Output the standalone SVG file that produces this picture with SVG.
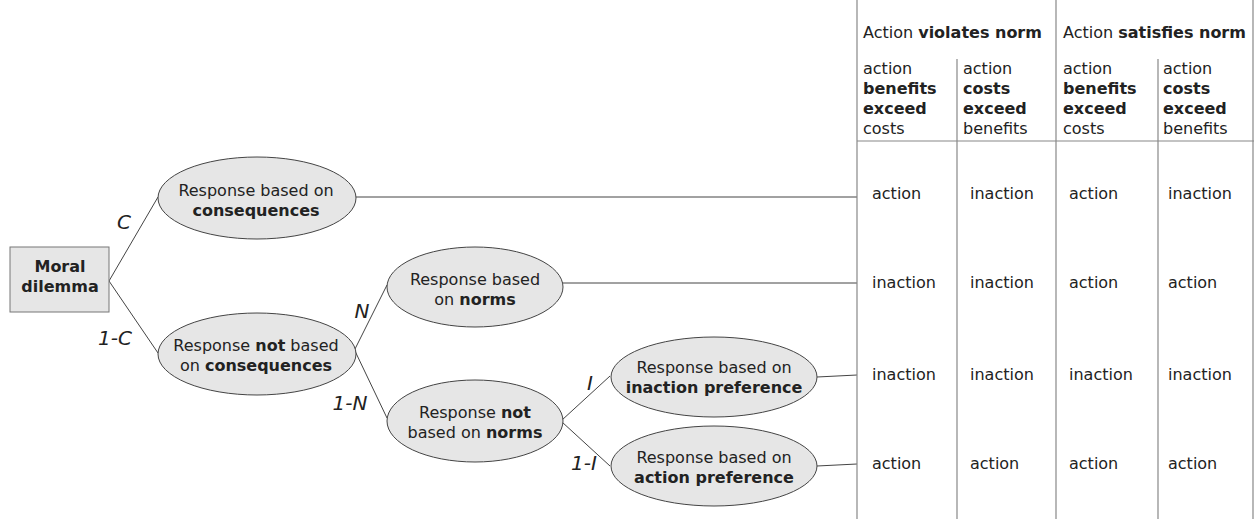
<svg xmlns="http://www.w3.org/2000/svg" width="1254" height="519" viewBox="0 0 1254 519">
<style>
text{font-family:"DejaVu Sans","Verdana",sans-serif;font-size:16px;fill:#222}
.b{font-weight:bold}
.c{text-anchor:middle}
.lab{font-style:italic;font-size:20px}
.node{fill:#e6e6e6;stroke:#444;stroke-width:1}
.conn line{stroke:#444;stroke-width:1}
.grid line{stroke:#888;stroke-width:1.2}
</style>
<rect width="1254" height="519" fill="#fff"/>
<g class="conn">
<line x1="109" y1="281" x2="158" y2="197"/>
<line x1="109" y1="281" x2="158" y2="353"/>
<line x1="356" y1="197" x2="857" y2="197"/>
<line x1="355" y1="349" x2="387" y2="285"/>
<line x1="355" y1="351" x2="387" y2="418"/>
<line x1="562" y1="283" x2="857" y2="283"/>
<line x1="562" y1="420" x2="610" y2="376"/>
<line x1="562" y1="422" x2="610" y2="466"/>
<line x1="817" y1="377" x2="857" y2="375"/>
<line x1="817" y1="466" x2="857" y2="464"/>
</g>
<g id="labels">
<text class="lab" x="124" y="229" text-anchor="middle">C</text>
<text class="lab" x="115" y="345" text-anchor="middle">1-C</text>
<text class="lab" x="362" y="318" text-anchor="middle">N</text>
<text class="lab" x="350" y="410" text-anchor="middle">1-N</text>
<text class="lab" x="590" y="390" text-anchor="middle">I</text>
<text class="lab" x="584" y="470" text-anchor="middle">1-I</text>
</g>
<g id="moral">
<rect class="node" x="10" y="247" width="99" height="65" style="stroke:#777"/>
<text class="c b" x="60" y="272">Moral</text>
<text class="c b" x="60" y="292">dilemma</text>
</g>
<g id="cons">
<ellipse class="node" cx="257" cy="198" rx="99" ry="41"/>
<text class="c" x="256" y="196">Response based on</text>
<text class="c b" x="256" y="216">consequences</text>
</g>
<g id="notcons">
<ellipse class="node" cx="257" cy="354" rx="99" ry="41"/>
<text class="c" x="256" y="351">Response <tspan class="b">not</tspan> based</text>
<text class="c" x="256" y="371">on <tspan class="b">consequences</tspan></text>
</g>
<g id="norms">
<ellipse class="node" cx="475" cy="287" rx="88" ry="40"/>
<text class="c" x="475" y="285">Response based</text>
<text class="c" x="475" y="305">on <tspan class="b">norms</tspan></text>
</g>
<g id="notnorms">
<ellipse class="node" cx="475" cy="421" rx="88" ry="41"/>
<text class="c" x="475" y="418">Response <tspan class="b">not</tspan></text>
<text class="c" x="475" y="438">based on <tspan class="b">norms</tspan></text>
</g>
<g id="inpref">
<ellipse class="node" cx="714" cy="377" rx="103" ry="40"/>
<text class="c" x="714" y="373">Response based on</text>
<text class="c b" x="714" y="393">inaction preference</text>
</g>
<g id="actpref">
<ellipse class="node" cx="714" cy="466" rx="103" ry="40"/>
<text class="c" x="714" y="463">Response based on</text>
<text class="c b" x="714" y="483">action preference</text>
</g>
<g id="table">
<g class="grid">
<line x1="857" y1="0" x2="857" y2="519"/>
<line x1="1056" y1="0" x2="1056" y2="519"/>
<line x1="1253" y1="0" x2="1253" y2="519"/>
<line x1="957" y1="59" x2="957" y2="519"/>
<line x1="1158" y1="59" x2="1158" y2="519"/>
<line x1="857" y1="141" x2="1254" y2="141"/>
</g>
<text x="863" y="38">Action <tspan class="b">violates norm</tspan></text>
<text x="1063" y="38">Action <tspan class="b">satisfies norm</tspan></text>
<text x="863" y="74">action</text>
<text class="b" x="863" y="94">benefits</text>
<text class="b" x="863" y="114">exceed</text>
<text x="863" y="134">costs</text>
<text x="963" y="74">action</text>
<text class="b" x="963" y="94">costs</text>
<text class="b" x="963" y="114">exceed</text>
<text x="963" y="134">benefits</text>
<text x="1063" y="74">action</text>
<text class="b" x="1063" y="94">benefits</text>
<text class="b" x="1063" y="114">exceed</text>
<text x="1063" y="134">costs</text>
<text x="1163" y="74">action</text>
<text class="b" x="1163" y="94">costs</text>
<text class="b" x="1163" y="114">exceed</text>
<text x="1163" y="134">benefits</text>
<text x="872" y="199">action</text>
<text x="970" y="199">inaction</text>
<text x="1069" y="199">action</text>
<text x="1168" y="199">inaction</text>
<text x="872" y="288">inaction</text>
<text x="970" y="288">inaction</text>
<text x="1069" y="288">action</text>
<text x="1168" y="288">action</text>
<text x="872" y="380">inaction</text>
<text x="970" y="380">inaction</text>
<text x="1069" y="380">inaction</text>
<text x="1168" y="380">inaction</text>
<text x="872" y="469">action</text>
<text x="970" y="469">action</text>
<text x="1069" y="469">action</text>
<text x="1168" y="469">action</text>
</g>
</svg>
